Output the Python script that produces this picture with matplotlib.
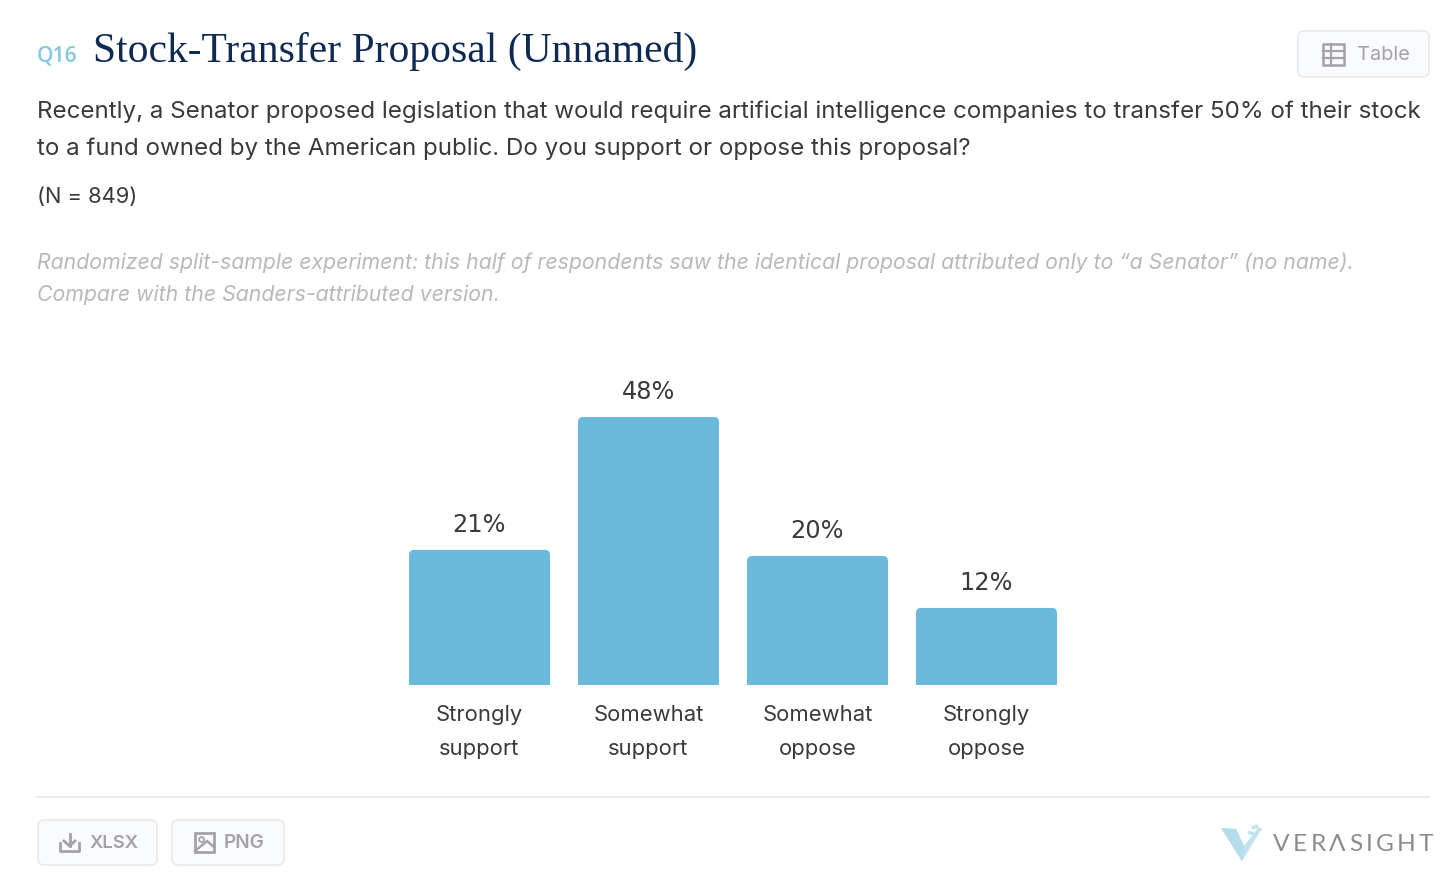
import matplotlib
matplotlib.use("Agg")
import matplotlib.pyplot as plt
from matplotlib.patches import FancyBboxPatch, Polygon, Rectangle

# answer options and the percentages printed above the bars
categories = ["Strongly\nsupport", "Somewhat\nsupport", "Somewhat\noppose", "Strongly\noppose"]
pct_labels = [21, 48, 20, 12]
# drawn bar heights, tallest bar = 48
bar_heights = [24.2, 48.0, 23.1, 13.8]

BLUE = "#6bb9db"
NAVY = "#0f2a52"
DARK = "#3a3a3a"
GREY = "#b9b9b9"
BTN = "#a3a3a6"
BODY = "Inter"

W, H = 1456, 877
fig = plt.figure(figsize=(W / 100, H / 100), dpi=100, facecolor="white")

# whole page in pixel coordinates for the text and buttons
bg = fig.add_axes([0, 0, 1, 1])
bg.set_xlim(0, W)
bg.set_ylim(H, 0)
bg.axis("off")


def px(size):
    return size * 0.72


def spaced(x, y, s, size, color, gap, **kw):
    r = fig.canvas.get_renderer()
    for ch in s:
        t = bg.text(x, y, ch, fontsize=px(size), color=color, va="center", ha="left", **kw)
        x += t.get_window_extent(r).width + gap


def button(x0, y0, x1, y1):
    bg.add_patch(FancyBboxPatch((x0, y0), x1 - x0, y1 - y0, boxstyle="round,pad=0,rounding_size=6",
                                fc="#fafbfc", ec="#e9eaec", lw=1.2))


# header
bg.text(37, 56, "Q16", fontsize=px(21), color="#85c6e0", va="center", family="Open Sans", weight="semibold")
bg.text(93, 51, "Stock-Transfer Proposal (Unnamed)", fontsize=px(41.5), color=NAVY, va="center",
        family="Liberation Serif")
bg.text(37, 111.5, "Recently, a Senator proposed legislation that would require artificial intelligence companies to transfer 50% of their stock",
        fontsize=px(24.15), color=DARK, va="center", family=BODY)
bg.text(37, 148.5, "to a fund owned by the American public. Do you support or oppose this proposal?",
        fontsize=px(24.15), color=DARK, va="center", family=BODY)
bg.text(37, 196.5, "(N = 849)", fontsize=px(22), color=DARK, va="center", family=BODY)
bg.text(37, 262.5, "Randomized split-sample experiment: this half of respondents saw the identical proposal attributed only to \u201ca Senator\u201d (no name).",
        fontsize=px(21.25), color=GREY, va="center", style="italic", family=BODY)
bg.text(37, 295, "Compare with the Sanders-attributed version.", fontsize=px(21.25), color=GREY, va="center",
        style="italic", family=BODY)

# table button
button(1298, 31, 1429, 77)
bg.add_patch(Rectangle((1323, 44), 21, 21, fc="none", ec=BTN, lw=1.8))
bg.plot([1323, 1344], [51, 51], color=BTN, lw=1.6)
bg.plot([1323, 1344], [58, 58], color=BTN, lw=1.6)
bg.plot([1331, 1331], [44, 65], color=BTN, lw=1.6)
bg.text(1357, 55, "Table", fontsize=px(20), color=BTN, va="center", family=BODY)

# footer
bg.plot([37, 1429], [797, 797], color="#e8e8e8", lw=1.3)
button(38, 820, 157, 865)
button(172, 820, 284, 865)
bg.plot([60, 60, 79, 79], [843, 851, 851, 843], color=BTN, lw=2)
bg.plot([69.5, 69.5], [834, 846], color=BTN, lw=2)
bg.plot([64, 69.5, 75], [841, 846, 841], color=BTN, lw=2)
bg.text(90, 843, "XLSX", fontsize=px(18.5), color=BTN, va="center", weight="semibold", family=BODY)
bg.add_patch(Rectangle((195, 833), 19, 19, fc="none", ec=BTN, lw=2))
bg.plot([195, 207, 214], [851, 841, 847], color=BTN, lw=1.8)
bg.plot([200.5], [839], marker="o", ms=3.5, mfc="none", mec=BTN, mew=1.3)
bg.text(224, 843, "PNG", fontsize=px(19), color=BTN, va="center", weight="semibold", family=BODY)

# logo
bg.add_patch(Polygon([(1221, 828), (1236, 829), (1244, 846), (1258, 828), (1262, 828), (1242, 861)],
                     fc="#bfe2f0", ec="none"))
bg.add_patch(Polygon([(1236, 829), (1244, 846), (1242, 861), (1221, 828)], fc="#b4dcec", ec="none"))
bg.plot([1253, 1256, 1259, 1249, 1252], [827, 826, 829, 832, 833], ls="none", marker="o", ms=1.8,
        color="#bfe2f0")
spaced(1273, 844.5, "VER\u039bSIGHT", 24.5, "#8a8d90", 3.3, family="Lato")

# bars: x axis centred on categories, y scale 268 px for 48 units
ax = fig.add_axes([395 / W, 1 - 685 / H, 676 / W, 268 / H])
ax.set_xlim(-0.5, 3.5)
ax.set_ylim(0, 48)
ax.axis("off")
bar_w = 141 / 169
y_per_x = (48 / 268) / (1 / 169)
for i, h in enumerate(bar_heights):
    ax.bar(i, h - 2, width=bar_w, color=BLUE, linewidth=0, clip_on=False)
    ax.add_patch(FancyBboxPatch((i - bar_w / 2, h - 3), bar_w, 3,
                                boxstyle="round,pad=0,rounding_size=%f" % (5 / 169),
                                mutation_aspect=y_per_x, fc=BLUE, ec="none", clip_on=False))
    ax.annotate("%d%%" % pct_labels[i], (i, h), xytext=(0, 25 * 0.72), textcoords="offset points",
                ha="center", va="center", fontsize=px(24), color=DARK, family="DejaVu Sans")
    first, second = categories[i].split("\n")
    ax.annotate(first, (i, 0), xytext=(0, -30 * 0.72), textcoords="offset points", ha="center", va="center",
                fontsize=px(22), color=DARK, family=BODY)
    ax.annotate(second, (i, 0), xytext=(0, -64 * 0.72), textcoords="offset points", ha="center", va="center",
                fontsize=px(22), color=DARK, family=BODY)

fig.savefig("out.png", dpi=100)
